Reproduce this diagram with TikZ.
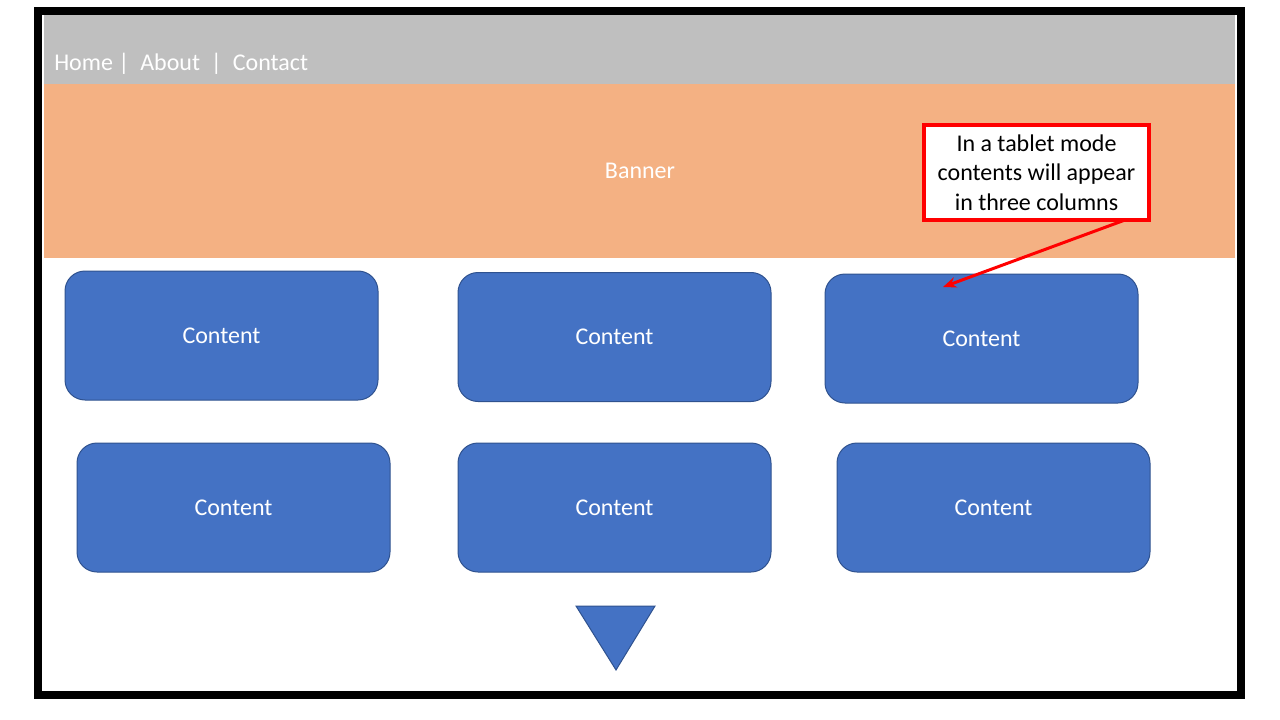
\documentclass[tikz,border=0pt]{standalone}
\usepackage{fontspec}
\setmainfont{Carlito}
\usetikzlibrary{arrows.meta}
\definecolor{navgray}{HTML}{BFBFBF}
\definecolor{bannerorange}{HTML}{F4B183}
\definecolor{contentblue}{HTML}{4472C4}
\definecolor{contentedge}{HTML}{2F528F}
\begin{document}
\begin{tikzpicture}[x=0.75pt, y=-0.75pt, font=\fontsize{18}{22}\selectfont]

% Define the node styles
\tikzstyle{contentbox}=[rectangle, draw=contentedge, line width=0.75pt, fill=contentblue, rounded corners=15pt, minimum width=234.75pt, minimum height=96.75pt, text=white]
\tikzstyle{callout}=[rectangle, draw=red, line width=3pt, fill=white, minimum width=168.75pt, minimum height=71.25pt, align=center, inner sep=2pt]
\tikzstyle{label}=[text=white, inner sep=0pt]

\useasboundingbox (0,0) rectangle (1280,720);

% Header bar and banner
\fill[navgray] (44,15) rectangle (1235,84);
\fill[bannerorange] (44,84) rectangle (1235,258);
\draw[line width=6pt] (38,11) rectangle (1241,695);

\node[label, anchor=base west] (menu) at (54,71) {Home |\ \ About\ \ |\ \ Contact};
\node[label] (banner) at (640,171) {Banner};

% Define the nodes
\node[callout] (note) at (1036.5,172.5) {In a tablet mode\\contents will appear\\in three columns};
\node[contentbox] (content1) at (221.5,335.5) {Content};
\node[contentbox] (content2) at (614.5,337) {Content};
\node[contentbox] (content3) at (981.5,338.5) {Content};
\node[contentbox] (content4) at (233.5,507.5) {Content};
\node[contentbox] (content5) at (614.5,507.5) {Content};
\node[contentbox] (content6) at (993.5,507.5) {Content};
\coordinate (notetip) at (943,287);

% Scroll marker
\draw[contentedge, line width=0.75pt, fill=contentblue] (576,606) -- (655,606) -- (616,670) -- cycle;

% Add the edges
\draw[-{Stealth[length=10pt, width=8pt]}, red, line width=2.25pt] ([xshift=-19.5pt, yshift=1.5pt]note.south east) -- (notetip);

\end{tikzpicture}
\end{document}
